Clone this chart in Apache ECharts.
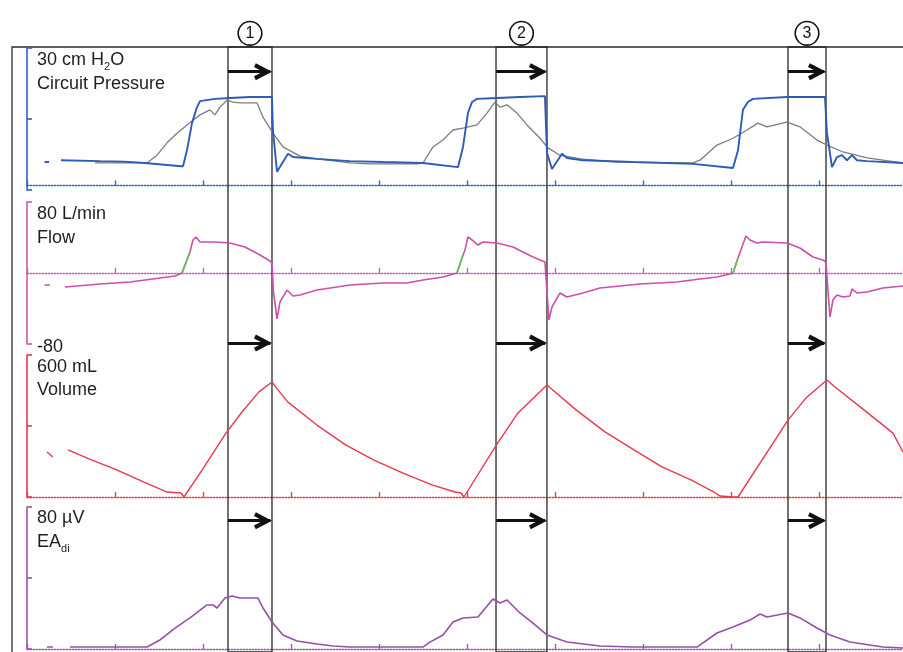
<!DOCTYPE html>
<html><head><meta charset="utf-8">
<script src="https://cdn.jsdelivr.net/npm/echarts@6/dist/echarts.min.js"></script>
<style>html,body{margin:0;padding:0;background:#fff}#c{width:903px;height:652px}</style>
</head><body><div id="c"></div>
<script>
// time in seconds, values in panel units
const pressureBlue = [[0.20,5.1],[0.25,5.1],[0.30,null],
[0.386,5.5],[0.83,5.3],[1.10,5.2],[1.341,4.9],[1.75,4.2],[1.773,4.2],[1.818,7.7],[1.875,13.6],[1.932,17.1],[1.966,18.4],[2.136,18.9],[2.307,19.1],[2.534,19.3],[2.784,19.3],[2.795,12.0],[2.841,3.0],[2.966,6.9],[3.023,6.2],[3.295,5.8],[3.670,5.3],[4.045,5.1],[4.500,4.9],[4.898,4.0],[4.955,8.4],[5.011,15.8],[5.057,18.2],[5.114,18.9],[5.341,19.1],[5.602,19.3],[5.886,19.5],[5.909,7.1],[5.966,3.6],[6.080,6.9],[6.136,6.0],[6.318,5.5],[6.886,5.1],[7.568,4.7],[8.023,3.8],[8.080,7.7],[8.136,16.5],[8.193,18.2],[8.250,18.9],[8.636,19.3],[9.068,19.3],[9.091,11.4],[9.148,4.0],[9.205,6.2],[9.261,6.6],[9.318,5.5],[9.375,6.6],[9.432,5.5],[9.545,5.3],[9.955,4.9]];
const pressureGray = [[0.773,4.9],[1.364,4.9],[1.477,6.6],[1.591,9.3],[1.705,11.4],[1.818,13.2],[1.966,15.4],[2.080,16.5],[2.136,15.4],[2.193,17.1],[2.273,18.6],[2.341,18.2],[2.420,18.0],[2.614,18.0],[2.682,14.9],[2.795,11.4],[2.909,8.4],[3.102,6.4],[3.295,5.8],[3.670,4.9],[3.898,4.7],[4.432,4.7],[4.500,4.9],[4.614,8.4],[4.727,9.9],[4.841,12.1],[4.955,12.5],[5.114,13.2],[5.227,15.8],[5.318,18.2],[5.375,17.1],[5.455,17.6],[5.568,15.8],[5.682,13.2],[5.830,10.3],[5.920,8.2],[6.057,6.6],[6.284,5.8],[6.705,5.1],[7.568,4.9],[7.648,5.5],[7.841,8.8],[8.023,10.3],[8.182,12.1],[8.307,13.6],[8.409,12.8],[8.636,13.8],[8.784,12.8],[8.977,9.9],[9.091,8.8],[9.273,7.3],[9.545,6.0],[9.727,5.5],[9.955,4.9]];
const flow = [[0.20,-13.5],[0.26,-13.5],[0.30,null],
[0.432,-15.8],[0.830,-12.4],[1.170,-10.1],[1.511,-5.6],[1.682,-3.4],[1.761,0],[1.852,23.7],[1.886,37.2],[1.920,40.6],[1.966,34.9],[2.136,34.9],[2.307,33.8],[2.477,29.3],[2.648,20.3],[2.761,13.5],[2.784,11.3],[2.800,-20],[2.841,-51.8],[2.875,-32.7],[2.955,-19.2],[3.023,-25.9],[3.102,-24.8],[3.295,-19.2],[3.670,-13.5],[4.045,-11.3],[4.318,-11.3],[4.500,-7.9],[4.727,-4.5],[4.886,0],[4.955,20.3],[4.977,25.9],[5.011,40.6],[5.057,37.2],[5.125,31.5],[5.182,34.9],[5.341,33.8],[5.523,29.3],[5.636,23.7],[5.750,18.0],[5.886,12.4],[5.909,-21.4],[5.932,-53.0],[5.966,-38.3],[6.057,-22.5],[6.136,-27.0],[6.318,-22.5],[6.511,-16.9],[6.739,-14.6],[6.966,-12.4],[7.386,-10.1],[7.648,-6.8],[7.841,-4.5],[7.989,-1.1],[8.023,0],[8.080,16.9],[8.125,29.3],[8.170,41.7],[8.216,37.2],[8.295,33.8],[8.364,34.9],[8.636,33.8],[8.784,28.2],[8.932,18.0],[9.045,14.6],[9.080,12.4],[9.102,-19.2],[9.125,-49.6],[9.159,-30.4],[9.205,-24.8],[9.273,-27.0],[9.352,-25.9],[9.375,-18.0],[9.432,-22.5],[9.545,-21.4],[9.727,-16.9],[9.955,-14.6]];
const flowTrigger = [[1.761,0],[1.852,23.7],[1.86,null],[4.886,0],[4.955,20.3],[4.96,null],[8.023,0],[8.080,16.9]];
const volume = [[0.227,190],[0.295,169],[0.33,null],
[0.466,199],[0.739,156],[1.000,118],[1.330,63],[1.591,21],[1.750,17],[1.784,0],[1.989,114],[2.261,270],[2.443,359],[2.636,444],[2.784,486],[2.835,460],[2.966,401],[3.295,304],[3.620,220],[3.943,156],[4.273,101],[4.602,51],[4.864,21],[4.932,17],[4.966,0],[5.335,220],[5.580,355],[5.909,473],[6.239,368],[6.568,275],[6.898,199],[7.216,127],[7.545,72],[7.807,21],[7.875,4],[8.034,0],[8.080,0],[8.648,325],[8.852,418],[9.091,494],[9.182,465],[9.511,368],[9.841,270],[9.955,190]];
const eadi = [[0.227,1.1],[0.295,1.1],[0.33,null],
[0.489,1.1],[1.364,1.1],[1.511,5.1],[1.682,11.8],[1.852,17.5],[2.045,24.8],[2.114,24.8],[2.159,23.1],[2.250,28.7],[2.330,29.9],[2.420,28.7],[2.625,28.7],[2.682,23.1],[2.784,15.2],[2.909,7.9],[3.068,4.5],[3.295,2.8],[3.477,1.7],[3.670,1.1],[4.500,1.1],[4.580,3.9],[4.727,7.9],[4.841,15.2],[4.955,17.5],[5.125,18.0],[5.295,28.2],[5.375,25.9],[5.455,27.6],[5.602,20.3],[5.750,14.6],[5.909,7.9],[6.136,3.9],[6.511,1.7],[6.886,1.1],[7.614,1.1],[7.841,9.0],[8.023,12.4],[8.216,16.3],[8.330,19.7],[8.409,18.0],[8.648,20.3],[8.784,17.5],[8.977,11.8],[9.125,7.9],[9.352,3.9],[9.727,1.1],[9.955,0.6]];

const timeRange = [0, 9.955];
const pressureRange = [-1, 30];
const flowRange = [-80, 80];
const volumeRange = [0, 600];
const eadiRange = [0, 80];
const windowStart = [2.284, 5.330, 8.648];
const windowEnd = [2.784, 5.909, 9.080];
const windowLabels = ['1', '2', '3'];
const arrowRows = [72, 347, 527];

const FONT = 'Liberation Sans, Arial, sans-serif';
const cBlue = '#2b5cb8', cGray = '#7d7d7d', cFlow = '#cc4fae', cGreen = '#5ec45a', cVol = '#e63950', cEa = '#9450a6';

const gridTops = [48, 202, 355, 507];
const panelColors = ['#3060c4', '#d05aa8', '#e5394e', '#9a55a8'];
const panelRanges = [pressureRange, flowRange, volumeRange, eadiRange];
const panelTickSteps = [15.5, 160, 300, 40];

const grids = gridTops.map(t => ({left: 27, right: 0, top: t, height: 142}));
grids.push({left: 27, right: 0, top: 47, bottom: -8});

const xAxes = gridTops.map((t, i) => ({
  type: 'value', gridIndex: i, min: timeRange[0], max: timeRange[1], interval: 1,
  axisLine: {show: true, onZero: true, lineStyle: {color: panelColors[i], type: [1.5, 1.5], width: 1.3}},
  axisTick: {show: true, inside: true, length: 5, lineStyle: {color: panelColors[i], width: 1.3}},
  axisLabel: {show: false}, splitLine: {show: false}
}));
xAxes.push({type: 'value', gridIndex: 4, min: timeRange[0], max: timeRange[1], show: false});

const yAxes = gridTops.map((t, i) => ({
  type: 'value', gridIndex: i, min: panelRanges[i][0], max: panelRanges[i][1], interval: panelTickSteps[i],
  axisLine: {show: true, onZero: false, lineStyle: {color: panelColors[i], width: 1.6}},
  axisTick: {show: true, inside: true, length: 5, lineStyle: {color: panelColors[i], width: 1.6}},
  axisLabel: {show: false}, splitLine: {show: false}
}));
yAxes.push({type: 'value', gridIndex: 4, min: 47, max: 660, inverse: true, show: false});

function trace(data, xi, color, width, z) {
  return {type: 'line', xAxisIndex: xi, yAxisIndex: xi, data: data, showSymbol: false, symbol: 'none',
    connectNulls: false, lineStyle: {color: color, width: width}, z: z || 2, silent: true};
}

// open chevron arrow head pointing up (rotated to the right)
const chevron = 'path://M7.5,0 L15,15 L11.6,16.7 L7.5,8.4 L3.4,16.7 L0,15 Z';

const areas = windowStart.map((s, i) => [{name: windowLabels[i], xAxis: s}, {xAxis: windowEnd[i]}]);
const arrows = [];
const heads = [];
windowStart.forEach((s, i) => arrowRows.forEach(r => {
  arrows.push([{coord: [s, r]}, {coord: [windowEnd[i] - 0.02, r]}]);
  heads.push({coord: [windowEnd[i], r]});
}));

const richStyle = {
  n: {fontSize: 18, fontFamily: FONT, fontWeight: 'normal', color: '#1e1e1e', lineHeight: 24},
  m: {fontSize: 18, fontFamily: FONT, fontWeight: 'normal', color: '#1e1e1e', lineHeight: 23},
  s: {fontSize: 11, fontFamily: FONT, fontWeight: 'normal', color: '#1e1e1e', lineHeight: 14, verticalAlign: 'bottom'}
};
const titles = [
  {text: '{n|30 cm H}{s|2}{n|O}\n{n|Circuit Pressure}', top: 48},
  {text: '{n|80 L/min}\n{n|Flow}', top: 202},
  {text: '{n|-80}', top: 335},
  {text: '{m|600 mL}\n{m|Volume}', top: 356},
  {text: '{n|80 µV}\n{n|EA}{s|di}', top: 506}
].map(t => ({text: t.text, left: 37, top: t.top, padding: 0,
  textStyle: {rich: richStyle, fontSize: 18, fontWeight: 'normal', lineHeight: 24}}));

const option = {
  animation: false,
  backgroundColor: '#fff',
  title: titles,
  grid: grids,
  xAxis: xAxes,
  yAxis: yAxes,
  graphic: [{type: 'rect', shape: {x: 12, y: 47, width: 960, height: 700}, style: {fill: 'none', stroke: '#2a2a2a', lineWidth: 1.3}, silent: true, z: 0}],
  series: [
    trace(pressureGray, 0, cGray, 1.3),
    trace(pressureBlue, 0, cBlue, 1.9, 3),
    trace(flow, 1, cFlow, 1.6),
    trace(flowTrigger, 1, cGreen, 1.6, 3),
    trace(volume, 2, cVol, 1.4),
    trace(eadi, 3, cEa, 1.6),
    {
      type: 'line', xAxisIndex: 4, yAxisIndex: 4, data: [], z: 10, silent: true,
      markArea: {
        silent: true,
        itemStyle: {color: 'rgba(0,0,0,0)', borderColor: '#2a2a2a', borderWidth: 1.3},
        label: {show: true, position: 'top', distance: 13, formatter: '{b}', color: '#111', fontSize: 16,
          fontFamily: FONT, backgroundColor: '#fff', borderColor: '#111', borderWidth: 1.6, borderRadius: 12,
          width: 22, height: 22, lineHeight: 22, align: 'center', verticalAlign: 'middle', padding: 0},
        data: areas
      },
      markLine: {
        silent: true, symbol: ['none', 'none'],
        lineStyle: {color: '#111', width: 3.2, type: 'solid'},
        label: {show: false}, emphasis: {disabled: true},
        data: arrows
      },
      markPoint: {
        silent: true, symbol: chevron, symbolSize: [17, 18], symbolRotate: -90, symbolOffset: [-9, 0],
        itemStyle: {color: '#111'}, label: {show: false},
        data: heads
      }
    }
  ]
};
const chart = echarts.init(document.getElementById('c'));
chart.setOption(option);
</script></body></html>
